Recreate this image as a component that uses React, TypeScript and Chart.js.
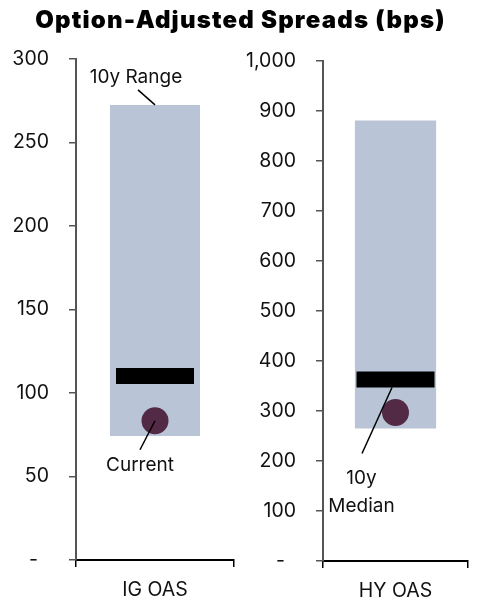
import React, { useEffect, useRef } from 'react';
import { Chart, registerables } from 'chart.js';

Chart.register(...registerables);

const TITLE = 'Option-Adjusted Spreads (bps)';
const CATEGORIES = ['IG OAS', 'HY OAS'];
const RANGE_LOW = [74.3, 265];
const RANGE_HIGH = [272.5, 881];
const MEDIAN = [110.2, 363];
const CURRENT = [83.4, 297];
const AXIS_MAX = [300, 1000];
const AXIS_STEP = [50, 100];

const FONT = 'Inter, Roboto, "Noto Sans", sans-serif';
const BAR_COLOR = '#b9c4d6';
const DOT_COLOR = '#532a45';

type Note = {
  lines: string[];
  anchor: 'high' | 'median' | 'current';
  from: [number, number];
  to: [number, number];
  text: [number, number];
  lineGap: number;
};

const NOTES: Note[][] = [
  [
    { lines: ['10y Range'], anchor: 'high', from: [-17, -15], to: [0, 0], text: [-19, -22], lineGap: 0 },
    { lines: ['Current'], anchor: 'current', from: [0, 0], to: [-15, 29], text: [-15, 50.5], lineGap: 0 },
  ],
  [
    { lines: ['10y', 'Median'], anchor: 'median', from: [-3.5, 8], to: [-33.5, 74], text: [-34, 104], lineGap: 28.5 },
  ],
];

const PANELS = [
  { left: 0, width: 245, yWidth: 76, rightPad: 11, topPad: 59, xHeight: 40, barPct: 0.57 },
  { left: 245, width: 242, yWidth: 78, rightPad: 19, topPad: 61, xHeight: 39, barPct: 0.56 },
];

function notesPlugin(i: number) {
  return {
    id: 'notes' + i,
    afterDatasetsDraw(chart: any) {
      const xs = chart.scales.x;
      const ys = chart.scales.y;
      const ctx = chart.ctx as CanvasRenderingContext2D;
      const cx = xs.getPixelForValue(0);
      ctx.save();
      ctx.strokeStyle = '#000';
      ctx.lineWidth = 1.5;
      ctx.fillStyle = '#111';
      ctx.font = '19px ' + FONT;
      ctx.textAlign = 'center';
      ctx.textBaseline = 'alphabetic';
      for (const n of NOTES[i]) {
        const v = n.anchor === 'high' ? RANGE_HIGH[i] : n.anchor === 'median' ? MEDIAN[i] : CURRENT[i];
        const ay = ys.getPixelForValue(v);
        ctx.beginPath();
        ctx.moveTo(cx + n.from[0], ay + n.from[1]);
        ctx.lineTo(cx + n.to[0], ay + n.to[1]);
        ctx.stroke();
        n.lines.forEach((t, k) => {
          ctx.fillText(t, cx + n.text[0], ay + n.text[1] + k * n.lineGap);
        });
      }
      ctx.restore();
    },
  };
}

function Panel({ i }: { i: number }) {
  const ref = useRef<HTMLCanvasElement>(null);
  useEffect(() => {
    const p = PANELS[i];
    const chart = new Chart(ref.current as HTMLCanvasElement, {
      type: 'bar',
      data: {
        labels: [CATEGORIES[i]],
        datasets: [
          {
            type: 'line',
            data: [CURRENT[i]],
            showLine: false,
            pointStyle: 'circle',
            pointRadius: 13.5,
            pointHoverRadius: 13.5,
            pointBackgroundColor: DOT_COLOR,
            pointBorderWidth: 0,
            order: 0,
          } as any,
          {
            type: 'line',
            data: [MEDIAN[i]],
            showLine: false,
            pointStyle: 'line',
            pointRadius: 39,
            pointHoverRadius: 39,
            pointBorderColor: '#000',
            pointBorderWidth: 16,
            order: 1,
          } as any,
          {
            type: 'bar',
            data: [[RANGE_LOW[i], RANGE_HIGH[i]]],
            backgroundColor: BAR_COLOR,
            barPercentage: p.barPct,
            categoryPercentage: 1,
            order: 2,
          } as any,
        ],
      },
      options: {
        responsive: false,
        maintainAspectRatio: false,
        animation: false,
        events: [],
        layout: { autoPadding: false, padding: { left: 0, right: p.rightPad, top: p.topPad, bottom: 0 } },
        plugins: { legend: { display: false }, tooltip: { enabled: false }, title: { display: false } },
        scales: {
          x: {
            ticks: { font: { family: FONT, size: 19.5 }, color: '#111', padding: 11 },
            grid: { drawOnChartArea: false, drawTicks: true, tickLength: 7, offset: true, color: '#000', lineWidth: 1.5 },
            border: { display: true, color: '#000', width: 2 },
            afterFit: (s: any) => { s.height = p.xHeight; },
          } as any,
          y: {
            min: 0,
            max: AXIS_MAX[i],
            ticks: {
              stepSize: AXIS_STEP[i],
              font: { family: FONT, size: 19.5 },
              color: '#111',
              padding: 20,
              callback: (v: any) => (Number(v) === 0 ? '-  ' : Number(v).toLocaleString('en-US')),
            },
            grid: { drawOnChartArea: false, drawTicks: true, tickLength: 7, color: '#555', lineWidth: 1.5 },
            border: { display: true, color: '#555', width: 2 },
            afterFit: (s: any) => { s.width = p.yWidth; },
          } as any,
        },
      },
      plugins: [notesPlugin(i)],
    });
    return () => chart.destroy();
  }, [i]);
  const p = PANELS[i];
  return (
    <canvas
      ref={ref}
      width={p.width}
      height={600}
      style={{ position: 'absolute', left: p.left, top: 0, width: p.width, height: 600 }}
    />
  );
}

export default function App() {
  return (
    <div style={{ position: 'absolute', left: 0, top: 0, width: 487, height: 600, background: '#fff', overflow: 'hidden' }}>
      <Panel i={0} />
      <Panel i={1} />
      <div
        style={{
          position: 'absolute',
          left: 0,
          top: 6,
          width: 481,
          textAlign: 'center',
          fontFamily: 'Inter, "DejaVu Sans", sans-serif',
          fontWeight: 900,
          fontSize: 24,
          letterSpacing: '1.2px',
          lineHeight: '28px',
          color: '#000',
          whiteSpace: 'nowrap',
        }}
      >
        {TITLE}
      </div>
    </div>
  );
}
